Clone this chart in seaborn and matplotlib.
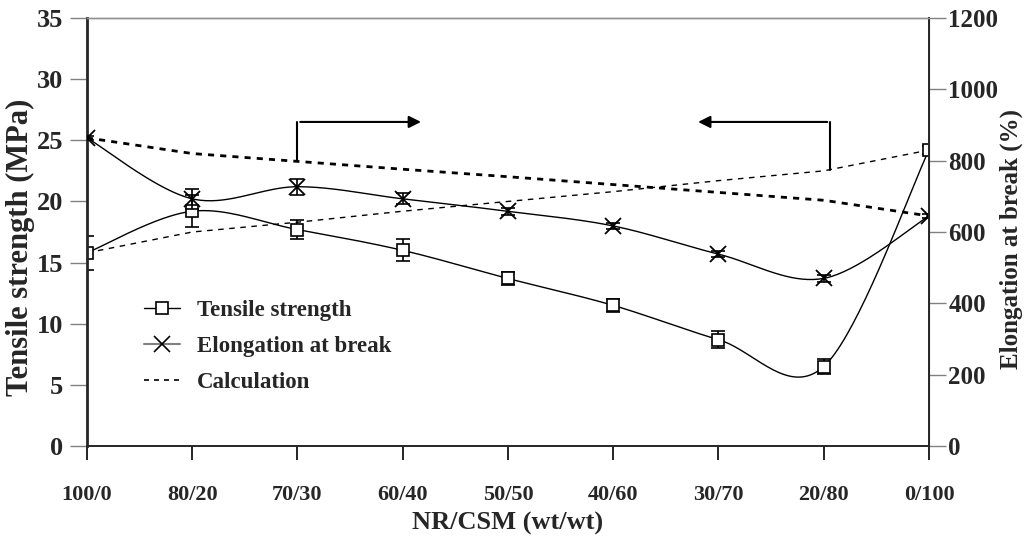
import numpy as np
import pandas as pd
import matplotlib
matplotlib.use("Agg")
import matplotlib.pyplot as plt
import seaborn as sns
from matplotlib.lines import Line2D

# --- datos ---
blends = ["100/0", "80/20", "70/30", "60/40", "50/50", "40/60", "30/70", "20/80", "0/100"]
tensile = [15.8, 19.2, 17.7, 16.0, 13.7, 11.5, 8.7, 6.5, 24.2]
tensile_err = [1.4, 1.3, 0.8, 0.9, 0.5, 0.5, 0.7, 0.6, 0.3]
elong = [864, 693, 727, 693, 658, 617, 538, 470, 645]
elong_err = [6, 28, 22, 15, 10, 8, 8, 10, 5]
tensile_calc = [15.8, 17.5, 18.3, 19.2, 20.0, 20.8, 21.7, 22.5, 24.2]
elong_calc = [864, 820, 798, 776, 755, 733, 711, 689, 645]


def smooth(y, n=40):
    # curva suavizada tipo Excel (Bezier / Catmull-Rom)
    x = np.arange(len(y), dtype=float)
    y = np.asarray(y, dtype=float)
    px = np.concatenate([[x[0]], x, [x[-1]]])
    py = np.concatenate([[y[0]], y, [y[-1]]])
    xs, ys = [], []
    t = np.linspace(0, 1, n)
    for i in range(1, len(px) - 2):
        p0x, p1x, p2x, p3x = px[i], px[i] + (px[i + 1] - px[i - 1]) / 6, px[i + 1] - (px[i + 2] - px[i]) / 6, px[i + 1]
        p0y, p1y, p2y, p3y = py[i], py[i] + (py[i + 1] - py[i - 1]) / 6, py[i + 1] - (py[i + 2] - py[i]) / 6, py[i + 1]
        b = [(1 - t) ** 3, 3 * (1 - t) ** 2 * t, 3 * (1 - t) * t ** 2, t ** 3]
        xs.append(b[0] * p0x + b[1] * p1x + b[2] * p2x + b[3] * p3x)
        ys.append(b[0] * p0y + b[1] * p1y + b[2] * p2y + b[3] * p3y)
    return np.concatenate(xs), np.concatenate(ys)


sns.set_style("ticks")
plt.rcParams['font.family'] = ['Liberation Serif', 'DejaVu Serif']
plt.rcParams['font.weight'] = 'bold'

fig = plt.figure(figsize=(10.33, 5.4), dpi=100)
ax = fig.add_axes([0.0842, 0.174, 0.8151, 0.7927])
ax2 = ax.twinx()

idx = np.arange(len(blends))
df = pd.DataFrame({"idx": idx, "tensile": tensile, "elong": elong,
                   "tensile_calc": tensile_calc, "elong_calc": elong_calc})

# lineas de calculo
sns.lineplot(data=df, x="idx", y="tensile_calc", ax=ax, color="black", lw=1.0,
             linestyle=(0, (4, 4)))
sns.lineplot(data=df, x="idx", y="elong_calc", ax=ax2, color="black", lw=2.0,
             linestyle=(0, (2.2, 2.2)))

# curvas suavizadas
sx, sy = smooth(tensile)
sns.lineplot(x=sx, y=sy, ax=ax, color="black", lw=1.0, sort=False, estimator=None)
ex, ey = smooth(elong)
sns.lineplot(x=ex, y=ey, ax=ax2, color="black", lw=1.0, sort=False, estimator=None)

# barras de error y marcadores
ax.errorbar(idx, tensile, yerr=tensile_err, fmt='none', ecolor='black', elinewidth=1.2, capsize=5, capthick=1.2)
ax.plot(idx, tensile, ls='none', marker='s', ms=9, mfc='white', mec='black', mew=1.2)
ax2.errorbar(idx, elong, yerr=elong_err, fmt='none', ecolor='black', elinewidth=1.2, capsize=5, capthick=1.2)
ax2.plot(idx, elong, ls='none', marker='x', ms=11, mec='black', mew=1.3)

# flechas
ax.plot([2, 2], [23.4, 26.5], color='black', lw=1.5)
ax.annotate("", xy=(3.2, 26.5), xytext=(2, 26.5),
            arrowprops=dict(arrowstyle='-|>', color='black', lw=1.5, mutation_scale=18))
ax.plot([7.06, 7.06], [22.6, 26.5], color='black', lw=1.5)
ax.annotate("", xy=(5.78, 26.5), xytext=(7.06, 26.5),
            arrowprops=dict(arrowstyle='-|>', color='black', lw=1.5, mutation_scale=18))

# ejes
ax.set_xlim(0, 8)
ax.set_ylim(0, 35)
ax2.set_ylim(0, 1200)
ax.set_xticks(idx)
ax.set_xticklabels(blends)
ax.set_yticks(np.arange(0, 36, 5))
ax2.set_yticks(np.arange(0, 1201, 200))
ax.set_xlabel("NR/CSM (wt/wt)", fontsize=19, fontweight='bold')
ax.set_ylabel("Tensile strength (MPa)", fontsize=22, fontweight='bold')
ax2.set_ylabel("Elongation at break (%)", fontsize=18, fontweight='bold')
ax.xaxis.set_label_coords(0.5, -0.153)
ax.yaxis.set_label_coords(-0.062, 0.465)
ax2.yaxis.set_label_coords(1.0843, 0.484)

ax.tick_params(axis='x', direction='out', length=10, width=1.2, pad=18, labelsize=16, color='black')
ax.tick_params(axis='y', direction='out', length=12, width=1.0, pad=5, labelsize=19, color='#808080')
ax2.tick_params(axis='y', direction='out', length=12, width=1.0, pad=2, labelsize=18, color='#808080')
for a in (ax, ax2):
    for lab in a.get_xticklabels() + a.get_yticklabels():
        lab.set_fontweight('bold')

ax.spines['left'].set_linewidth(2.0)
ax.spines['bottom'].set_linewidth(1.4)
ax2.spines['right'].set_linewidth(1.4)
ax2.spines['top'].set_color('#909090')
ax2.spines['top'].set_linewidth(1.0)
ax.spines['top'].set_color('#909090')
ax.spines['top'].set_linewidth(1.0)
ax2.spines['left'].set_visible(False)
ax2.spines['bottom'].set_visible(False)
for a in (ax, ax2):
    a.set_facecolor('none')

# leyenda
handles = [
    Line2D([], [], color='black', lw=1.0, marker='s', ms=9, mfc='white', mec='black', mew=1.2),
    Line2D([], [], color='#808080', lw=1.5, marker='x', ms=11, mec='black', mew=1.2),
    Line2D([], [], color='black', lw=1.2, linestyle=(0, (3, 3))),
]
ax.legend(handles, ["Tensile strength", "Elongation at break", "Calculation"],
          loc='upper left', bbox_to_anchor=(0.043, 0.39), frameon=False,
          prop={'family': 'Liberation Serif', 'weight': 'bold', 'size': 16.5},
          handlelength=1.6, labelspacing=0.65, handletextpad=0.7)

fig.savefig("out.png", dpi=100)
